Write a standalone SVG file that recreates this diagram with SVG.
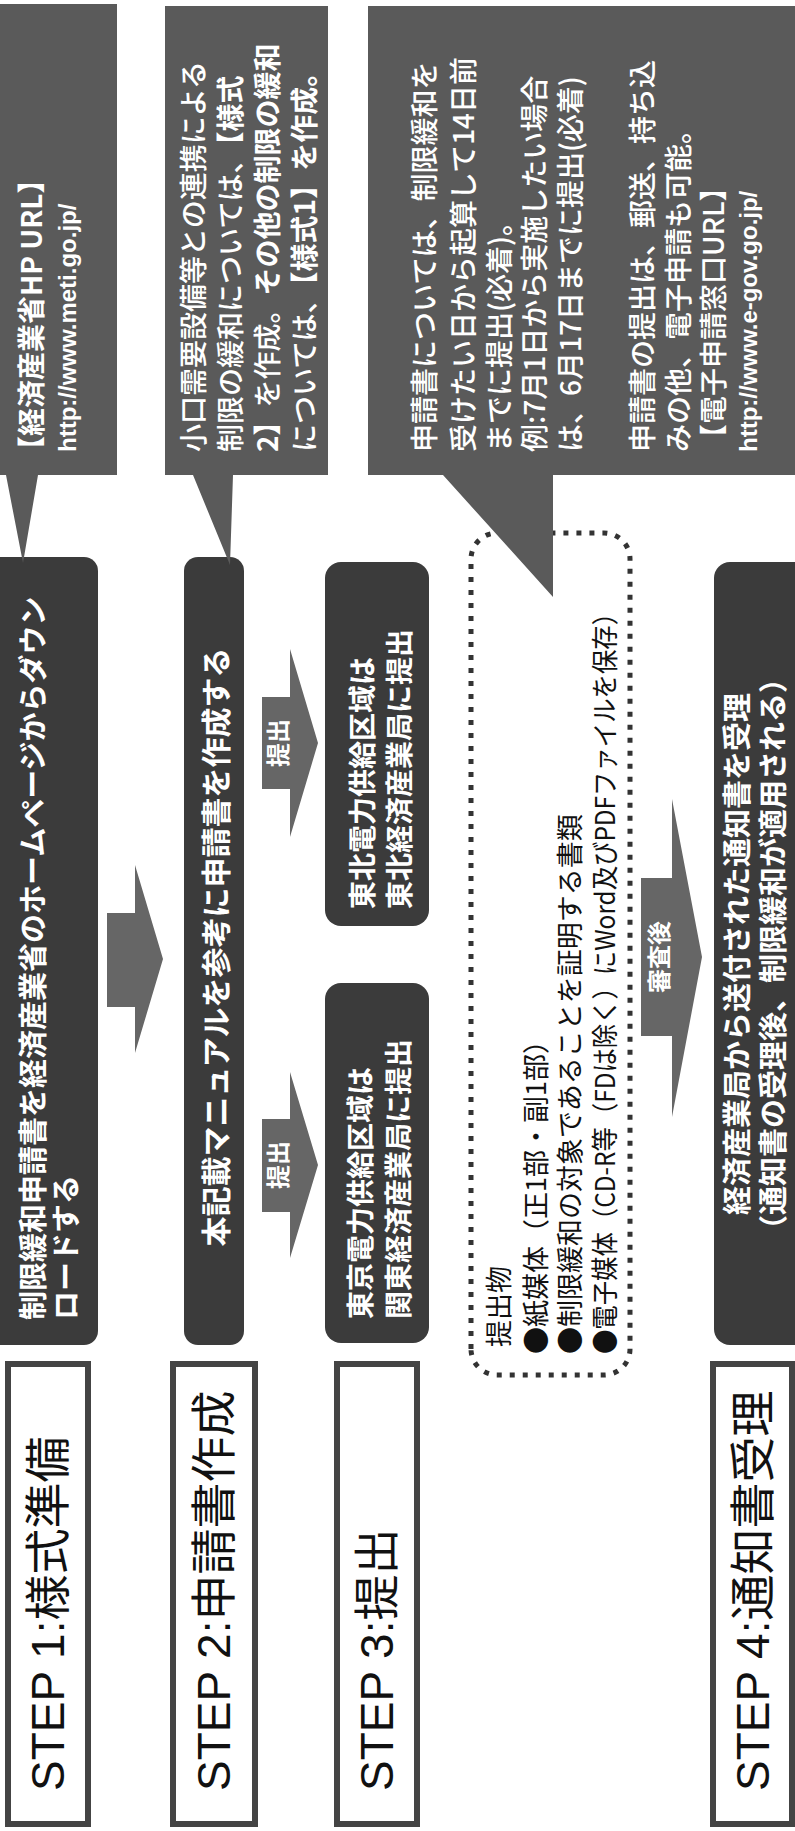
<svg xmlns="http://www.w3.org/2000/svg" width="795" height="1831" viewBox="0 0 795 1831">
<style>
.step rect{fill:#fff;stroke:#444;stroke-width:6}
.step text{font-family:"Liberation Sans","Noto Sans CJK JP",sans-serif;font-size:46px;fill:#111;dominant-baseline:central}
.dark{fill:#3b3b3b}
.call{fill:#5a5a5a}
.arrow{fill:#666}
.wt{fill:#fff;font-family:"Noto Sans CJK JP","Liberation Sans",sans-serif;font-weight:bold;dominant-baseline:central}
.ct{fill:#fff;font-family:"Noto Sans CJK JP","Liberation Sans",sans-serif;font-size:28px;font-weight:500;dominant-baseline:central}
.url{fill:#fff;font-family:"Liberation Sans","Noto Sans CJK JP",sans-serif;font-size:24px;font-weight:bold;dominant-baseline:central}
.b{font-weight:bold}
.lbl{fill:#fff;font-family:"Noto Sans CJK JP",sans-serif;font-size:24px;font-weight:bold;dominant-baseline:central;text-anchor:middle}
.dot{fill:none;stroke:#333;stroke-width:5;stroke-dasharray:5 8}
.bt{fill:#111;font-family:"Noto Sans CJK JP","Liberation Sans",sans-serif;font-size:27px;dominant-baseline:central}
</style>
<rect width="795" height="1831" fill="#fff"/>
<g transform="translate(0,1831) rotate(-90)">
  <!-- STEP labels -->
  <g id="step1" class="step"><rect x="7" y="8" width="460" height="80"/><text x="40" y="48">STEP 1:様式準備</text></g>
  <g id="step2" class="step"><rect x="7" y="173" width="460" height="82"/><text x="40" y="214">STEP 2:申請書作成</text></g>
  <g id="step3" class="step"><rect x="7" y="337" width="460" height="80"/><text x="40" y="377">STEP 3:提出</text></g>
  <g id="step4" class="step"><rect x="7" y="713" width="460" height="79"/><text x="40" y="753">STEP 4:通知書受理</text></g>

  <!-- connectors: block arrows -->
  <g id="connectors">
    <path class="arrow" d="M824,107 H918 V135 H966 L872,163 L778,135 H824 Z"/>
    <g id="arrow-teishutsu-1"><path class="arrow" d="M619,262 H712 V290 H759 L666,318 L573,290 H619 Z"/><text class="lbl" x="666" y="276">提出</text></g>
    <g id="arrow-teishutsu-2"><path class="arrow" d="M1042,262 H1134 V290 H1182 L1088,318 L994,290 H1042 Z"/><text class="lbl" x="1088" y="276">提出</text></g>
    <g id="arrow-shinsago"><path class="arrow" d="M795,641 H953 V672 H1032 L874,702 L714,672 H795 Z"/><text class="lbl" x="874" y="657">審査後</text></g>
  </g>

  <!-- STEP 1 action -->
  <g id="download">
    <rect class="dark" x="486" y="-20" width="788" height="118" rx="14"/>
    <text class="wt" font-size="29" x="511" y="31">制限緩和申請書を経済産業省のホームページからダウン</text>
    <text class="wt" font-size="29" x="511" y="64">ロードする</text>
  </g>
  <!-- STEP 2 action -->
  <g id="create">
    <rect class="dark" x="486" y="184" width="788" height="60" rx="14"/>
    <text class="wt" font-size="30" x="884" y="214" text-anchor="middle">本記載マニュアルを参考に申請書を作成する</text>
  </g>
  <!-- STEP 3 actions -->
  <g id="kanto">
    <rect class="dark" x="488" y="325" width="360" height="104" rx="16"/>
    <text class="wt" font-size="28" x="512" y="359">東京電力供給区域は</text>
    <text class="wt" font-size="28" x="512" y="397">関東経済産業局に提出</text>
  </g>
  <g id="tohoku">
    <rect class="dark" x="905" y="325" width="364" height="104" rx="16"/>
    <text class="wt" font-size="28" x="922" y="361">東北電力供給区域は</text>
    <text class="wt" font-size="28" x="922" y="398">東北経済産業局に提出</text>
  </g>
  <!-- submission items -->
  <g id="items">
    <rect class="dot" x="456" y="471" width="842" height="159" rx="26"/>
    <text class="bt" x="484" y="497">提出物</text>
    <text class="bt" x="477" y="534">●紙媒体（正1部・副1部）</text>
    <text class="bt" x="477" y="568">●制限緩和の対象であることを証明する書類</text>
    <text class="bt" x="477" y="603" textLength="753" lengthAdjust="spacingAndGlyphs">●電子媒体（CD-R等（FDは除く）にWord及びPDFファイルを保存）</text>
  </g>
  <!-- STEP 4 action -->
  <g id="receive">
    <rect class="dark" x="486" y="714" width="783" height="110" rx="16"/>
    <text class="wt" font-size="29" x="877" y="735" text-anchor="middle">経済産業局から送付された通知書を受理</text>
    <text class="wt" font-size="29" x="877" y="771" text-anchor="middle">（通知書の受理後、制限緩和が適用される）</text>
  </g>

  <!-- callouts -->
  <g id="callout-meti">
    <path class="call" d="M1356,-10 H1827 V117 H1356 V38 L1268,23 L1356,6 Z"/>
    <text class="ct b" x="1367" y="30">【経済産業省HP URL】</text>
    <text class="url" x="1379" y="67">http://www.meti.go.jp/</text>
  </g>
  <g id="callout-form">
    <path class="call" d="M1356,165 H1825 V328 H1356 V233 L1266,230 L1356,193 Z"/>
    <text class="ct" x="1379" y="192">小口需要設備等との連携による</text>
    <text class="ct" x="1379" y="229">制限の緩和については、<tspan class="b">【様式</tspan></text>
    <text class="ct" x="1379" y="266"><tspan class="b">2】</tspan>を作成。<tspan class="b">その他の制限の緩和</tspan></text>
    <text class="ct" x="1379" y="303">については、<tspan class="b">【様式1】を作成。</tspan></text>
  </g>
  <g id="callout-deadline">
    <path class="call" d="M1356,368 H1825 V810 H1356 V553 L1234,553 L1356,443 Z"/>
    <text class="ct" x="1379" y="423">申請書については、制限緩和を</text>
    <text class="ct" x="1379" y="462">受けたい日から起算して14日前</text>
    <text class="ct" x="1379" y="498">までに提出(必着)。</text>
    <text class="ct" x="1379" y="533">例:7月1日から実施したい場合</text>
    <text class="ct" x="1379" y="569">は、6月17日までに提出(必着)</text>
    <text class="ct" x="1379" y="641">申請書の提出は、郵送、持ち込</text>
    <text class="ct" x="1379" y="677">みの他、電子申請も可能。</text>
    <text class="ct" x="1379" y="712">【電子申請窓口URL】</text>
    <text class="url" x="1379" y="748">http://www.e-gov.go.jp/</text>
  </g>
</g>
</svg>
